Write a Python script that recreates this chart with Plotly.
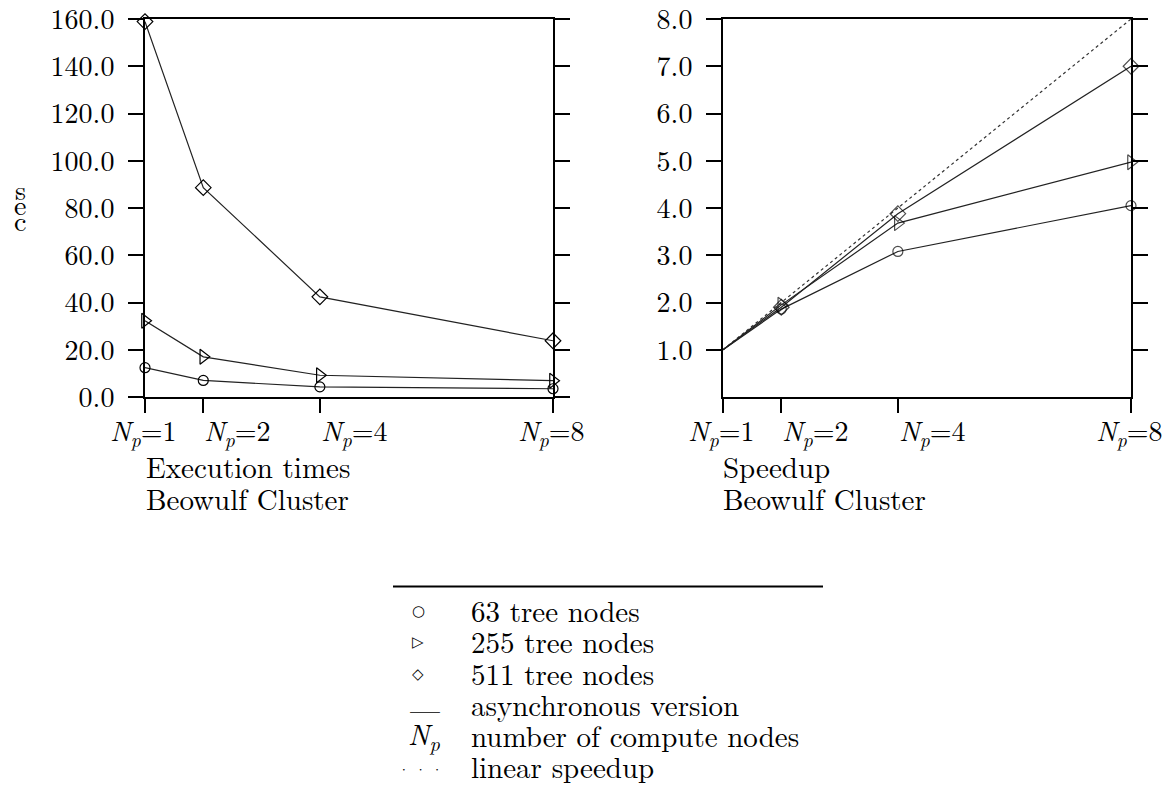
import plotly.graph_objects as go

W, H = 1176, 801

np_vals = [1, 2, 4, 8]
np_labels = ["<i>N</i><sub><i>p</i></sub>=1", "<i>N</i><sub><i>p</i></sub>=2",
             "<i>N</i><sub><i>p</i></sub>=4", "<i>N</i><sub><i>p</i></sub>=8"]
np_label_anchor = ["center", "left", "left", "center"]

time_63 = [12.4, 7.0, 4.3, 3.5]
time_255 = [32.3, 17.0, 9.2, 6.9]
time_511 = [158.9, 88.6, 42.4, 23.8]

speedup_63 = [1.0, 1.86, 3.08, 4.05]
speedup_255 = [1.0, 1.95, 3.68, 4.97]
speedup_511 = [1.0, 1.90, 3.88, 7.0]
linear_speedup = [1, 2, 4, 8]

time_ticks = [0, 20, 40, 60, 80, 100, 120, 140, 160]
speed_ticks = [1, 2, 3, 4, 5, 6, 7, 8]

series_names = ["63 tree nodes", "255 tree nodes", "511 tree nodes"]
symbols = ["circle-open", "triangle-right-open", "diamond-open"]
msizes = [10, 13, 12]

LINE = "#222222"
SERIF = "Latin Modern Roman"

fig = go.Figure()

for name, vals, sym, ms in zip(series_names, [time_63, time_255, time_511], symbols, msizes):
    fig.add_trace(go.Scatter(
        x=np_vals, y=vals, mode="lines+markers", name=name,
        line=dict(color=LINE, width=1.2),
        marker=dict(symbol=sym, size=ms, color="black", line=dict(width=1.2, color="black")),
        cliponaxis=False, xaxis="x", yaxis="y", showlegend=False))

fig.add_trace(go.Scatter(
    x=np_vals, y=linear_speedup, mode="lines", name="linear speedup",
    line=dict(color="#333333", width=1.2, dash="dot"),
    cliponaxis=False, xaxis="x2", yaxis="y2", showlegend=False))

for name, vals, sym, ms in zip(series_names, [speedup_63, speedup_255, speedup_511], symbols, msizes):
    fig.add_trace(go.Scatter(
        x=np_vals, y=vals, mode="lines+markers", name=name,
        line=dict(color=LINE, width=1.2),
        marker=dict(symbol=sym, size=[0] + [ms] * (len(vals) - 1), color="black",
                    line=dict(width=1.2, color="black")),
        cliponaxis=False, xaxis="x2", yaxis="y2", showlegend=False))

ydom = [(H - 397) / H, (H - 19) / H]
common_x = dict(range=[1, 8], tickvals=np_vals, showticklabels=False, ticks="outside",
                ticklen=14, tickwidth=2, tickcolor="black", showline=True, linewidth=2,
                linecolor="black", mirror=True, showgrid=False, zeroline=False,
                automargin=False)
common_y = dict(ticks="outside", ticklen=15, tickwidth=2, tickcolor="black", showline=True,
                linewidth=2, linecolor="black", mirror="ticks", showgrid=False, zeroline=False,
                automargin=False, ticklabeloverflow="allow",
                tickfont=dict(family=SERIF, size=28, color="black"), ticklabelstandoff=8)

fig.update_layout(
    width=W, height=H, margin=dict(l=0, r=0, t=0, b=0, autoexpand=False),
    paper_bgcolor="white", plot_bgcolor="white",
    font=dict(family=SERIF, size=28, color="black"),
    xaxis=dict(domain=[145 / W, 553 / W], anchor="y", **common_x),
    yaxis=dict(domain=ydom, anchor="x", range=[0, 160], tickvals=time_ticks,
               ticktext=[f"{v:.1f}" for v in time_ticks], **common_y),
    xaxis2=dict(domain=[723 / W, 1131 / W], anchor="y2", **common_x),
    yaxis2=dict(domain=ydom, anchor="x2", range=[0, 8], tickvals=speed_ticks,
                ticktext=[f"{v:.1f}" for v in speed_ticks], **common_y),
)

def ann(text, x, y, size=29, xanchor="left", yanchor="middle", family=SERIF):
    fig.add_annotation(text=text, x=x / W, y=(H - y) / H, xref="paper", yref="paper",
                       xanchor=xanchor, yanchor=yanchor, showarrow=False,
                       font=dict(family=family, size=size, color="black"))

# x tick labels (placed through the x axes' data scale)
for xref in ["x", "x2"]:
    for v, lab, anc in zip(np_vals, np_labels, np_label_anchor):
        fig.add_annotation(text=lab, x=v, xref=xref, y=(H - 431) / H, yref="paper",
                           xanchor=anc, yanchor="middle", showarrow=False,
                           xshift=(-2 if anc == "center" else -1),
                           font=dict(family=SERIF, size=28, color="black"))

# panel captions
ann("Execution times", 144, 465)
ann("Beowulf Cluster", 144, 498)
ann("Speedup", 721, 465)
ann("Beowulf Cluster", 721, 498)

# vertical unit label
for ch, yy in zip(["s", "e", "c"], [188, 203, 219]):
    ann(ch, 20, yy, size=28, xanchor="center")

# legend
fig.add_shape(type="line", xref="paper", yref="paper", x0=393 / W, x1=823 / W,
              y0=(H - 586.5) / H, y1=(H - 586.5) / H, line=dict(color="black", width=2))
legend_rows = ["63 tree nodes", "255 tree nodes", "511 tree nodes",
               "asynchronous version", "number of compute nodes", "linear speedup"]
legend_syms = ["○", "▷", "◇", "—", "<i>N</i><sub><i>p</i></sub>", "· · ·"]
legend_y = [609, 640, 672, 703, 734, 765]
for txt, sym, yy in zip(legend_rows, legend_syms, legend_y):
    ann(txt, 469, yy)
    if sym.startswith("<i>"):
        ann(sym, 406, yy, size=29)
    elif sym == "—":
        ann(sym, 425, yy + 4, size=30, xanchor="center")
    elif sym == "· · ·":
        ann(sym, 420, yy + 3, size=15, xanchor="center")
    else:
        ann(sym, 418, yy + 2, size=15, xanchor="center", family="DejaVu Sans")

fig.write_html("out.html")
